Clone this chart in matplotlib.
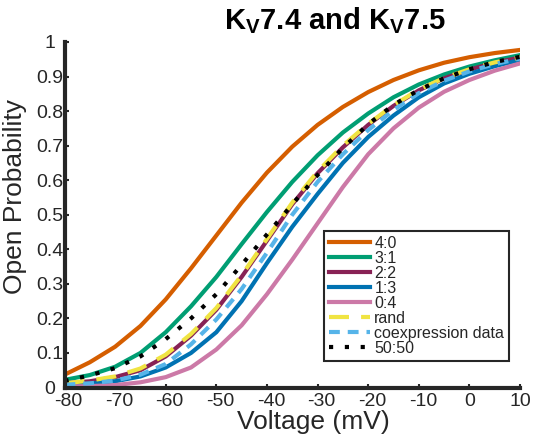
import numpy as np
import matplotlib
matplotlib.use('Agg')
from matplotlib import pyplot as plt
from matplotlib import transforms

plt.rcParams['font.family'] = ['Liberation Sans', 'DejaVu Sans']
plt.rcParams['mathtext.fontset'] = 'custom'
plt.rcParams['mathtext.rm'] = 'Liberation Sans'
plt.rcParams['mathtext.bf'] = 'Liberation Sans:bold'

# voltage (mV) and open probability
voltage = [-80, -75, -70, -65, -60, -55, -50, -45, -40, -35, -30, -25, -20, -15, -10, -5, 0, 5, 10]
p40 = [0.037, 0.073, 0.118, 0.178, 0.255, 0.345, 0.44, 0.535, 0.622, 0.697, 0.76, 0.812, 0.855, 0.89, 0.918, 0.94, 0.956, 0.968, 0.977]
p31 = [0.022, 0.036, 0.06, 0.10, 0.16, 0.235, 0.32, 0.415, 0.508, 0.595, 0.672, 0.738, 0.793, 0.84, 0.877, 0.906, 0.929, 0.947, 0.962]
p22 = [0.012, 0.018, 0.03, 0.05, 0.09, 0.15, 0.225, 0.32, 0.425, 0.53, 0.62, 0.695, 0.76, 0.815, 0.86, 0.895, 0.92, 0.94, 0.955]
p13 = [0.007, 0.011, 0.018, 0.032, 0.058, 0.10, 0.16, 0.25, 0.36, 0.465, 0.56, 0.65, 0.725, 0.787, 0.84, 0.88, 0.908, 0.93, 0.948]
p04 = [0.003, 0.004, 0.007, 0.015, 0.03, 0.058, 0.11, 0.18, 0.27, 0.37, 0.475, 0.58, 0.675, 0.75, 0.81, 0.856, 0.89, 0.917, 0.938]
prand = [0.012, 0.02, 0.032, 0.055, 0.095, 0.155, 0.23, 0.325, 0.43, 0.535, 0.625, 0.70, 0.763, 0.817, 0.862, 0.896, 0.921, 0.941, 0.955]
pcoex = [0.008, 0.012, 0.02, 0.037, 0.068, 0.125, 0.197, 0.285, 0.39, 0.50, 0.595, 0.675, 0.745, 0.803, 0.852, 0.888, 0.915, 0.936, 0.952]
p5050 = [0.019, 0.035, 0.056, 0.09, 0.14, 0.20, 0.27, 0.355, 0.443, 0.53, 0.615, 0.693, 0.762, 0.818, 0.861, 0.895, 0.921, 0.942, 0.957]

xticks = [-80, -70, -60, -50, -40, -30, -20, -10, 0, 10]
yticks = [0, 0.1, 0.2, 0.3, 0.4, 0.5, 0.6, 0.7, 0.8, 0.9, 1]
ylabels = ['0', '0.1', '0.2', '0.3', '0.4', '0.5', '0.6', '0.7', '0.8', '0.9', '1']

W, H = 551, 442
fig = plt.figure(figsize=(W/100, H/100), dpi=100)
ax = fig.add_axes([64.5/W, 1-387.5/H, (520-64.5)/W, (387.5-42)/H])

lw = 3
ax.plot(voltage, p40, color='#D55E00', lw=lw, label='4:0')
ax.plot(voltage, p31, color='#009E73', lw=lw, label='3:1')
ax.plot(voltage, p22, color='#882255', lw=lw, label='2:2')
ax.plot(voltage, p13, color='#0072B2', lw=lw, label='1:3')
ax.plot(voltage, p04, color='#CC79A7', lw=lw, label='0:4')
ax.plot(voltage, prand, color='#F0E442', lw=lw, dashes=(4.8, 2.9), label='rand')
ax.plot(voltage, pcoex, color='#56B4E9', lw=lw, dashes=(2.6, 1.9), label='coexpression data')
ax.plot(voltage, p5050, color='black', lw=lw, dashes=(1, 2.8), label='50:50')

ax.set_xlim(-80, 10)
ax.set_ylim(0, 1)
ax.set_xticks(xticks)
ax.set_xticklabels([str(t) for t in xticks])
ax.set_yticks(yticks)
ax.set_yticklabels(ylabels)
for s in ['top', 'right']:
    ax.spines[s].set_visible(False)
for s in ['left', 'bottom']:
    ax.spines[s].set_linewidth(3)
    ax.spines[s].set_color('#262626')
    ax.spines[s].set_zorder(5)
ax.tick_params(direction='in', length=3, width=1.5, color='#262626',
               labelsize=14, labelcolor='#262626')
ax.tick_params(axis='y', pad=1)
ax.tick_params(axis='x', pad=4)

# label nudges seen in the original: "0"/"1" further left, negative x labels centred on the digits
left = transforms.ScaledTranslation(-8/100, 0, fig.dpi_scale_trans)
ylab = ax.get_yticklabels()
for i in (0, len(ylab)-1):
    ylab[i].set_transform(ylab[i].get_transform() + left)
right = transforms.ScaledTranslation(4/100, 0, fig.dpi_scale_trans)
for t, lab in zip(xticks, ax.get_xticklabels()):
    if t < 0:
        lab.set_transform(lab.get_transform() + right)

leg = ax.legend(loc='upper left', bbox_to_anchor=(324/W, 1-231/H), bbox_transform=fig.transFigure,
                fontsize=11.5, handlelength=2.6, handletextpad=0.25, labelspacing=0.0,
                borderpad=0.3, borderaxespad=0, fancybox=False, framealpha=1)
leg.get_frame().set_edgecolor('#262626')
leg.get_frame().set_linewidth(1.5)
for t in leg.get_texts():
    t.set_color('#262626')

fig.text(335/W, 1-29.5/H, r'K$_\mathbf{V}$7.4 and K$_\mathbf{V}$7.5', ha='center', va='baseline',
         fontsize=21, fontweight='bold')
fig.text(313/W, 1-422/H, 'Voltage (mV)', ha='center', va='center', fontsize=19, color='#262626')
fig.text(15/W, 1-197/H, 'Open Probability', ha='center', va='center', rotation=90,
         fontsize=19, color='#262626')

fig.savefig('out.png', dpi=100)
